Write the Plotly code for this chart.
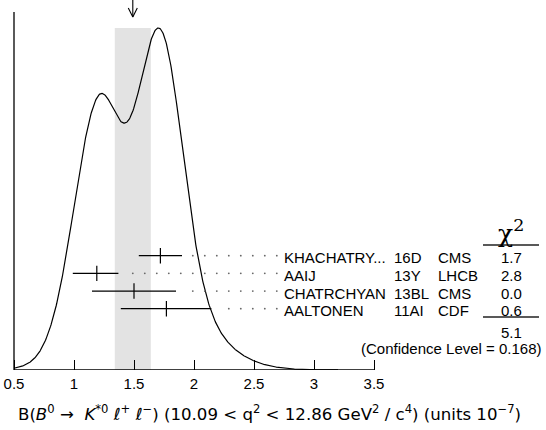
import numpy as np
import plotly.graph_objects as go

# ---- data ----
names = ["KHACHATRY...", "AAIJ", "CHATRCHYAN", "AALTONEN"]
refs = ["16D", "13Y", "13BL", "11AI"]
exps = ["CMS", "LHCB", "CMS", "CDF"]
values = [1.72, 1.19, 1.50, 1.77]
err_minus = [0.18, 0.20, 0.35, 0.38]
err_plus = [0.18, 0.18, 0.35, 0.375]
chi2_vals = ["1.7", "2.8", "0.0", "0.6"]
chi2_total = "5.1"
conf_level = "(Confidence Level = 0.168)"
avg_value = 1.49
avg_error = 0.15
tick_vals = [0.5, 1.0, 1.5, 2.0, 2.5, 3.0, 3.5]
tick_text = ["0.5", "1", "1.5", "2", "2.5", "3", "3.5"]

# ---- layout constants ----
W, H = 546, 430
PX_PER_UNIT = 120.0
X0_PX = 14  # pixel of x = 0.5
x_lo = 0.5 - X0_PX / PX_PER_UNIT
x_hi = 0.5 + (W - X0_PX) / PX_PER_UNIT
PLOT_H = 370  # y units == pixels above baseline
PEAK_H = 342
row0 = 114.3
row_step = 17.67
rows_y = [row0 - i * row_step for i in range(len(names))]
TXT_DY = 2.0  # text nudge down (px)

def px2x(px):
    return 0.5 + (px - X0_PX) / PX_PER_UNIT

def py2y(py):
    return PLOT_H - py

# ---- ideogram ----
xs = np.linspace(0.5, 3.2, 700)
ideo = np.zeros_like(xs)
for v, sm, sp in zip(values, err_minus, err_plus):
    s_avg = 0.5 * (sm + sp)
    s = np.where(xs < v, sm, sp)
    ideo += (1.0 / s_avg ** 2) * np.exp(-((xs - v) ** 2) / (2 * s ** 2))
curve = ideo / ideo.max() * PEAK_H

fig = go.Figure()

# band
fig.add_shape(type="rect", xref="x", yref="y",
              x0=avg_value - avg_error, x1=avg_value + avg_error,
              y0=0, y1=PEAK_H, fillcolor="#e3e3e3", line_width=0, layer="below")

# curve
fig.add_trace(go.Scatter(x=xs, y=curve, mode="lines",
                         line=dict(color="black", width=1.2),
                         hoverinfo="skip", showlegend=False))

# error bars
fig.add_trace(go.Scatter(
    x=values, y=rows_y, mode="markers",
    marker=dict(symbol="line-ns", size=11, line=dict(color="black", width=1.2)),
    error_x=dict(type="data", symmetric=False, array=err_plus, arrayminus=err_minus,
                 width=0, thickness=1.2, color="black"),
    hoverinfo="skip", showlegend=False))

# dotted leaders
label_x = px2x(283)
dx, dy = [], []
for v, sp, y in zip(values, err_plus, rows_y):
    hi = v + sp
    for k in range(0, 20):
        gx = avg_value + 0.1 * k
        if gx > hi + 0.05 and gx < label_x - 0.04:
            dx.append(gx)
            dy.append(y)
fig.add_trace(go.Scatter(x=dx, y=dy, mode="markers",
                         marker=dict(size=1.8, color="#666666"),
                         hoverinfo="skip", showlegend=False))

# arrow at weighted average
tip_y = py2y(17)
head_dx = 4.5 / PX_PER_UNIT
fig.add_trace(go.Scatter(x=[avg_value, avg_value], y=[PLOT_H, tip_y], mode="lines",
                         line=dict(color="black", width=1.1), hoverinfo="skip", showlegend=False))
fig.add_trace(go.Scatter(x=[avg_value - head_dx, avg_value, avg_value + head_dx],
                         y=[tip_y + 9, tip_y, tip_y + 9], mode="lines",
                         line=dict(color="black", width=1.1), hoverinfo="skip", showlegend=False))

# axis lines
fig.add_shape(type="line", xref="x", yref="y", x0=0.5, x1=0.5, y0=0, y1=py2y(12),
              line=dict(color="black", width=1.3))
fig.add_shape(type="line", xref="x", yref="y", x0=0.5, x1=3.5, y0=0, y1=0,
              line=dict(color="black", width=1.3))

# table text
font_txt = dict(family="Liberation Sans, Arial, Helvetica", size=15, color="black")
ref_x = px2x(393)
exp_x = px2x(437)
chi_x = px2x(511)
for n, r, e, c, y in zip(names, refs, exps, chi2_vals, rows_y):
    yt = y - TXT_DY
    fig.add_annotation(x=label_x, y=yt, text=n, showarrow=False, xanchor="left",
                       yanchor="middle", font=font_txt, borderpad=0)
    fig.add_annotation(x=ref_x, y=yt, text=r, showarrow=False, xanchor="left",
                       yanchor="middle", font=font_txt, borderpad=0)
    fig.add_annotation(x=exp_x, y=yt, text=e, showarrow=False, xanchor="left",
                       yanchor="middle", font=font_txt, borderpad=0)
    fig.add_annotation(x=chi_x, y=yt, text=c, showarrow=False, xanchor="center",
                       yanchor="middle", font=font_txt, borderpad=0)

# chi2 header and rules
fig.add_annotation(x=chi_x, y=py2y(231), text="χ<sup>2</sup>", showarrow=False,
                   xanchor="center", yanchor="middle",
                   font=dict(family="DejaVu Serif", size=25, color="black"))
for py in (245, 317):
    fig.add_shape(type="line", xref="x", yref="y", x0=px2x(483), x1=px2x(539),
                  y0=py2y(py), y1=py2y(py), line=dict(color="#222222", width=1.3))
fig.add_annotation(x=chi_x, y=py2y(332), text=chi2_total, showarrow=False,
                   xanchor="center", yanchor="middle", font=font_txt, borderpad=0)
fig.add_annotation(x=px2x(543), y=py2y(348), text=conf_level, showarrow=False,
                   xanchor="right", yanchor="middle", font=font_txt, borderpad=0)

# x-axis title
title = ("B(<i>B</i><sup>0</sup> →  <i>K</i><sup>*0</sup> <i>ℓ</i><sup>+</sup> <i>ℓ</i><sup>−</sup>) "
         "(10.09 &lt; q<sup>2</sup> &lt; 12.86 GeV<sup>2</sup> / c<sup>4</sup>) (units 10<sup>−7</sup>)")
fig.add_annotation(xref="paper", yref="paper", x=16 / W, y=(PLOT_H - 413) / PLOT_H,
                   text=title, showarrow=False, xanchor="left", yanchor="middle",
                   font=dict(family="DejaVu Sans", size=16.6, color="black"))

fig.update_xaxes(range=[x_lo, x_hi], showgrid=False, zeroline=False, showline=False,
                 ticks="inside", ticklen=10, tickwidth=1.2, tickcolor="black",
                 tickvals=tick_vals, ticktext=tick_text, ticklabelstandoff=3,
                 tickfont=dict(family="Liberation Sans, Arial", size=15, color="black"),
                 fixedrange=True)
fig.update_yaxes(range=[0, PLOT_H], visible=False, fixedrange=True)
fig.update_layout(width=W, height=H, margin=dict(l=0, r=0, t=0, b=H - PLOT_H),
                  plot_bgcolor="white", paper_bgcolor="white", showlegend=False)

fig.write_html("out.html", config={"displayModeBar": False},
               post_script="document.body.style.margin='0';document.body.style.overflow='hidden';")
